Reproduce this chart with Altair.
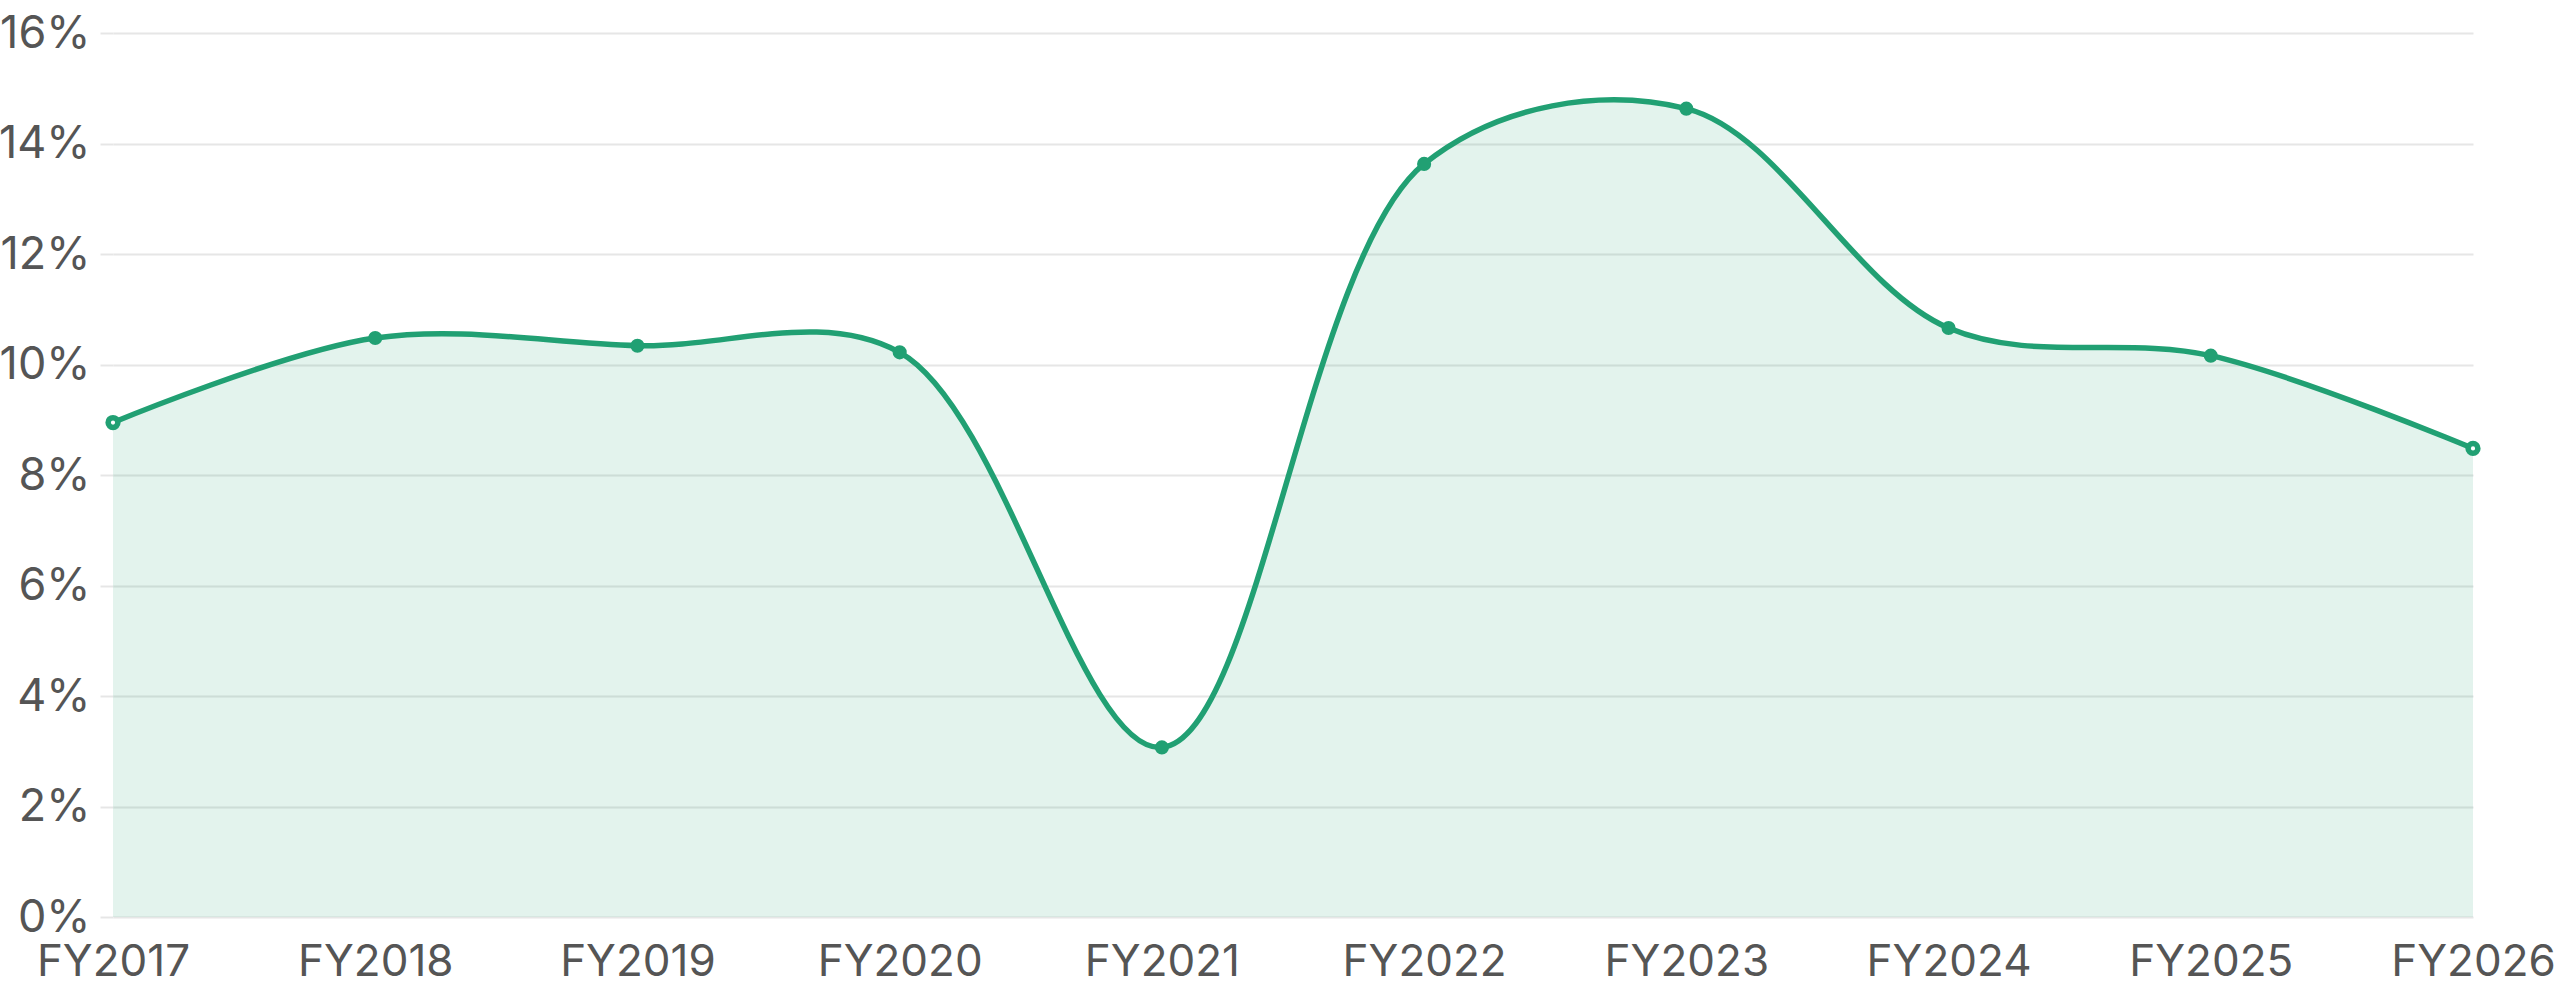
import altair as alt
import pandas as pd

years = ["FY2017", "FY2018", "FY2019", "FY2020", "FY2021",
         "FY2022", "FY2023", "FY2024", "FY2025", "FY2026"]
values = [8.95, 10.48, 10.34, 10.22, 3.07, 13.63, 14.63, 10.66, 10.16, 8.48]
end_flags = [True, False, False, False, False, False, False, False, False, True]

df = pd.DataFrame({"year": years, "value": values, "end": end_flags})

GREEN = "#21a073"
FONT = "Inter"

x_enc = alt.X("year:N", sort=years,
              scale=alt.Scale(type="point", padding=0),
              axis=alt.Axis(title=None, labelAngle=0, labelFontSize=44,
                            labelColor="#555555", labelFont=FONT,
                            labelPadding=23, ticks=False, domain=False,
                            grid=False, labelFlush=False))
y_enc = alt.Y("value:Q",
              scale=alt.Scale(domain=[0, 16], nice=False),
              axis=alt.Axis(title=None, values=[0, 2, 4, 6, 8, 10, 12, 14, 16],
                            labelExpr="datum.value + '%'", labelFontSize=45,
                            labelColor="#555555", labelFont=FONT,
                            labelPadding=10, tickSize=13, tickColor="#e6e6e6",
                            tickWidth=2, domain=False, grid=True,
                            gridColor="#e6e6e6", gridWidth=2))

base = alt.Chart(df)

area = base.mark_area(interpolate="catmull-rom", color=GREEN, opacity=0.126).encode(
    x=x_enc, y=y_enc)
line = base.mark_line(interpolate="catmull-rom", color=GREEN, strokeWidth=5.5).encode(
    x=alt.X("year:N", sort=years), y="value:Q")
pts = base.transform_filter("!datum.end").mark_circle(
    color=GREEN, size=200, opacity=1).encode(
    x=alt.X("year:N", sort=years), y="value:Q")
ends = base.transform_filter("datum.end").mark_point(
    shape="circle", filled=False, fill="white", fillOpacity=1, stroke=GREEN,
    strokeWidth=5.5, size=95, opacity=1).encode(
    x=alt.X("year:N", sort=years), y="value:Q")

chart = alt.layer(area, line, pts, ends).properties(
    width=2360, height=884,
    background="white",
    autosize=alt.AutoSizeParams(type="none"),
    padding={"left": 113, "top": 33, "right": 87, "bottom": 79},
).configure_view(stroke=None)

chart.save("out.html", embed_options={"renderer": "svg", "actions": False})
